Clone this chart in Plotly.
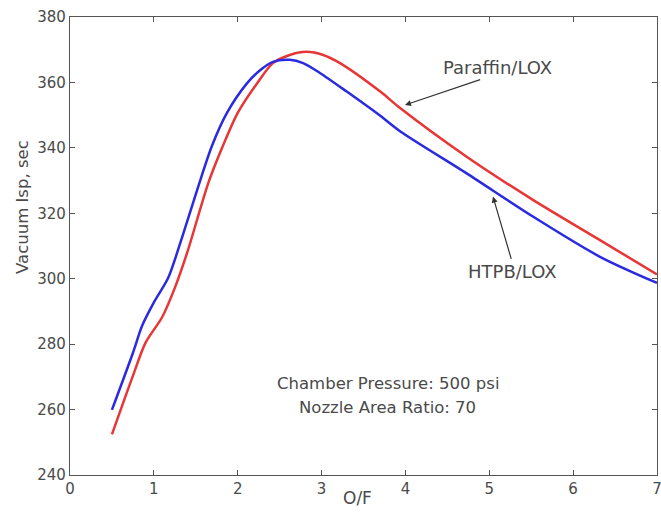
import plotly.graph_objects as go

# Paraffin/LOX (red)
paraffin_of = [0.5, 0.75, 0.9, 1.1, 1.25, 1.4, 1.65, 1.82, 2.0, 2.23, 2.42, 2.62, 2.82, 3.02, 3.22, 3.7, 3.94, 4.73, 5.52, 6.32, 7.0]
paraffin_isp = [252.4, 270.3, 280.4, 288.3, 297.2, 308.2, 329.3, 340.4, 350.7, 359.7, 365.9, 368.4, 369.4, 368.4, 365.9, 357.2, 352.1, 337.3, 324.1, 311.8, 301.3]

# HTPB/LOX (blue)
htpb_of = [0.5, 0.75, 0.86, 1.01, 1.17, 1.33, 1.53, 1.69, 1.87, 2.11, 2.27, 2.42, 2.62, 2.78, 2.98, 3.3, 3.7, 3.94, 4.73, 5.52, 6.32, 7.0]
htpb_isp = [259.9, 277.3, 285.6, 293.2, 300.2, 312.1, 328.2, 340.4, 350.6, 359.7, 363.8, 366.3, 366.9, 365.9, 362.9, 357.2, 349.8, 345.0, 332.2, 319.0, 306.7, 298.7]

x_ticks = [0, 1, 2, 3, 4, 5, 6, 7]
y_ticks = [240, 260, 280, 300, 320, 340, 360, 380]

TXT = "#4a4a4a"
FONT = "DejaVu Sans"

fig = go.Figure()
fig.add_trace(go.Scatter(x=paraffin_of, y=paraffin_isp, mode="lines",
                         line=dict(color="#e83535", width=2.5, shape="spline", smoothing=0.8),
                         name="Paraffin/LOX"))
fig.add_trace(go.Scatter(x=htpb_of, y=htpb_isp, mode="lines",
                         line=dict(color="#2a2ae0", width=2.5, shape="spline", smoothing=0.8),
                         name="HTPB/LOX"))

axis_common = dict(showgrid=False, zeroline=False, showline=True, linecolor="#555555", linewidth=1.2,
                   mirror="ticks", ticks="inside", ticklen=5, tickcolor="#555555",
                   tickfont=dict(family=FONT, size=15, color=TXT))

fig.update_xaxes(range=[0, 7], tickvals=x_ticks, ticktext=[str(v) for v in x_ticks],
                 ticklabeloverflow="allow", **axis_common)
fig.update_yaxes(range=[240, 380], tickvals=y_ticks, ticktext=[str(v) for v in y_ticks], **axis_common)

# axis titles as annotations
fig.add_annotation(xref="paper", yref="paper", x=0.49, y=-0.050, text="O/F", showarrow=False,
                   font=dict(family=FONT, size=17, color=TXT), yanchor="middle")
fig.add_annotation(xref="paper", yref="paper", x=-0.082, y=0.585, text="Vacuum Isp, sec", showarrow=False,
                   textangle=-90, font=dict(family=FONT, size=16.5, color=TXT), xanchor="center")

# arrows
fig.add_annotation(x=3.995, y=353.1, ax=4.909, ay=361.0, axref="x", ayref="y", xref="x", yref="y",
                   text="", showarrow=True, arrowhead=2, arrowsize=1, arrowwidth=1.2, arrowcolor="#333333")
fig.add_annotation(x=5.044, y=325.1, ax=5.267, ay=305.6, axref="x", ayref="y", xref="x", yref="y",
                   text="", showarrow=True, arrowhead=2, arrowsize=1, arrowwidth=1.2, arrowcolor="#333333")

# labels
fig.add_annotation(x=5.10, y=364.7, text="Paraffin/LOX", showarrow=False,
                   font=dict(family=FONT, size=18, color=TXT))
fig.add_annotation(x=5.28, y=302.1, text="HTPB/LOX", showarrow=False,
                   font=dict(family=FONT, size=18, color=TXT))
fig.add_annotation(x=3.79, y=268.1, text="Chamber Pressure: 500 psi", showarrow=False,
                   font=dict(family=FONT, size=16.5, color=TXT))
fig.add_annotation(x=3.79, y=260.5, text="Nozzle Area Ratio: 70", showarrow=False,
                   font=dict(family=FONT, size=16.5, color=TXT))

fig.update_layout(width=661, height=516, margin=dict(l=70, r=4, t=17, b=41, autoexpand=False),
                  plot_bgcolor="white", paper_bgcolor="white", showlegend=False)

fig.write_html("out.html", config={"displayModeBar": False},
               post_script="document.body.style.margin='0';document.documentElement.style.overflow='hidden';document.body.style.overflow='hidden';")
